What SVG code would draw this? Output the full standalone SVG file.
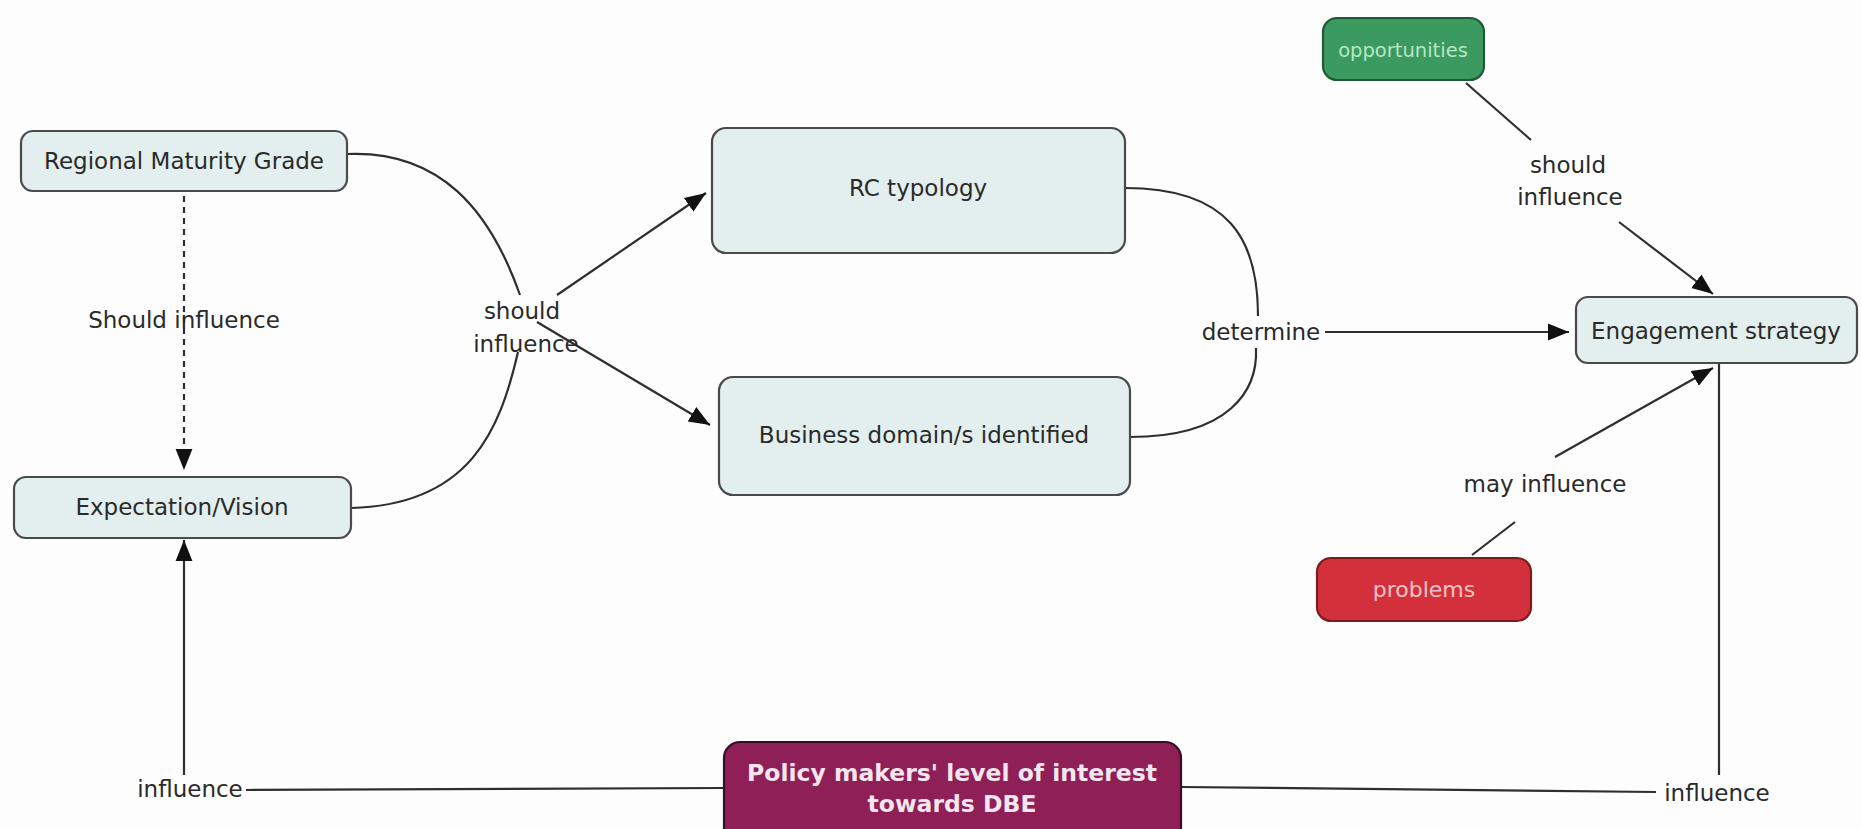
<svg xmlns="http://www.w3.org/2000/svg" width="1861" height="829" viewBox="0 0 1861 829">
<defs>
<style>
.node rect{fill:#e3eeee;stroke:#4a4a4a;stroke-width:2.2}
.node text,.lbl{font-family:"DejaVu Sans","Verdana",sans-serif;font-size:23px;fill:#2a2a2a;text-anchor:middle}
.conn path,.conn line{fill:none;stroke:#2e2e2e;stroke-width:2.2}
.dash{stroke-dasharray:6 5}
</style>
<marker id="arrB" viewBox="0 0 10 10" refX="10" refY="5" markerWidth="21" markerHeight="21" markerUnits="userSpaceOnUse" orient="auto">
<path d="M0,1 L10,5 L0,9 z" fill="#111"/>
</marker>
</defs>
<rect width="1861" height="829" fill="#fdfdfd"/>

<g class="conn">
<line class="dash" x1="184" y1="196" x2="184" y2="470" marker-end="url(#arrB)"/>
<path d="M347,154 C440,150 490,210 520,295"/>
<path d="M351,508 C470,505 500,430 518,352"/>
<path d="M557,295 L706,193" marker-end="url(#arrB)"/>
<path d="M537,322 L710,425" marker-end="url(#arrB)"/>
<path d="M1125,188 C1230,188 1258,240 1258,316"/>
<path d="M1130,437 C1230,437 1258,390 1256,348"/>
<path d="M1325,332 L1569,332" marker-end="url(#arrB)"/>
<path d="M1466,83 L1531,140"/>
<path d="M1619,222 L1713,294" marker-end="url(#arrB)"/>
<path d="M1472,555 L1515,522"/>
<path d="M1555,457 L1713,368" marker-end="url(#arrB)"/>
<path d="M1719,363 L1719,775"/>
<path d="M1181,787 L1656,792"/>
<path d="M724,788 L246,790"/>
<path d="M184,775 L184,540" marker-end="url(#arrB)"/>
</g>

<g class="labels">
<text class="lbl" x="184" y="328">Should influence</text>
<text class="lbl" x="522" y="319">should</text>
<text class="lbl" x="526" y="352">influence</text>
<text class="lbl" x="1261" y="340">determine</text>
<text class="lbl" x="1568" y="173">should</text>
<text class="lbl" x="1570" y="205">influence</text>
<text class="lbl" x="1545" y="492">may influence</text>
<text class="lbl" x="1717" y="801">influence</text>
<text class="lbl" x="190" y="797">influence</text>
</g>

<g id="rmg" class="node">
<rect x="21" y="131" width="326" height="60" rx="12"/>
<text x="184" y="169">Regional Maturity Grade</text>
</g>
<g id="ev" class="node">
<rect x="14" y="477" width="337" height="61" rx="12"/>
<text x="182" y="515">Expectation/Vision</text>
</g>
<g id="rc" class="node">
<rect x="712" y="128" width="413" height="125" rx="14"/>
<text x="918" y="196">RC typology</text>
</g>
<g id="bd" class="node">
<rect x="719" y="377" width="411" height="118" rx="14"/>
<text x="924" y="443">Business domain/s identified</text>
</g>
<g id="es" class="node">
<rect x="1576" y="297" width="281" height="66" rx="12"/>
<text x="1716" y="339">Engagement strategy</text>
</g>
<g id="opp">
<rect x="1323" y="18" width="161" height="62" rx="14" fill="#3a9a5f" stroke="#1e5a36" stroke-width="2.2"/>
<text x="1403" y="57" font-family="DejaVu Sans, sans-serif" font-size="19.5" fill="#b7e6c6" text-anchor="middle">opportunities</text>
</g>
<g id="prob">
<rect x="1317" y="558" width="214" height="63" rx="14" fill="#d4303b" stroke="#7a1c1c" stroke-width="2.2"/>
<text x="1424" y="597" font-family="DejaVu Sans, sans-serif" font-size="22" fill="#f2c3c6" text-anchor="middle">problems</text>
</g>
<g id="policy">
<rect x="724" y="742" width="457" height="110" rx="16" fill="#8e1f57" stroke="#3a0d22" stroke-width="2.2"/>
<text x="952" y="781" font-family="DejaVu Sans, sans-serif" font-size="23.5" font-weight="bold" fill="#f4e6ee" text-anchor="middle">Policy makers' level of interest</text>
<text x="952" y="812" font-family="DejaVu Sans, sans-serif" font-size="23.5" font-weight="bold" fill="#f4e6ee" text-anchor="middle">towards DBE</text>
</g>
</svg>
